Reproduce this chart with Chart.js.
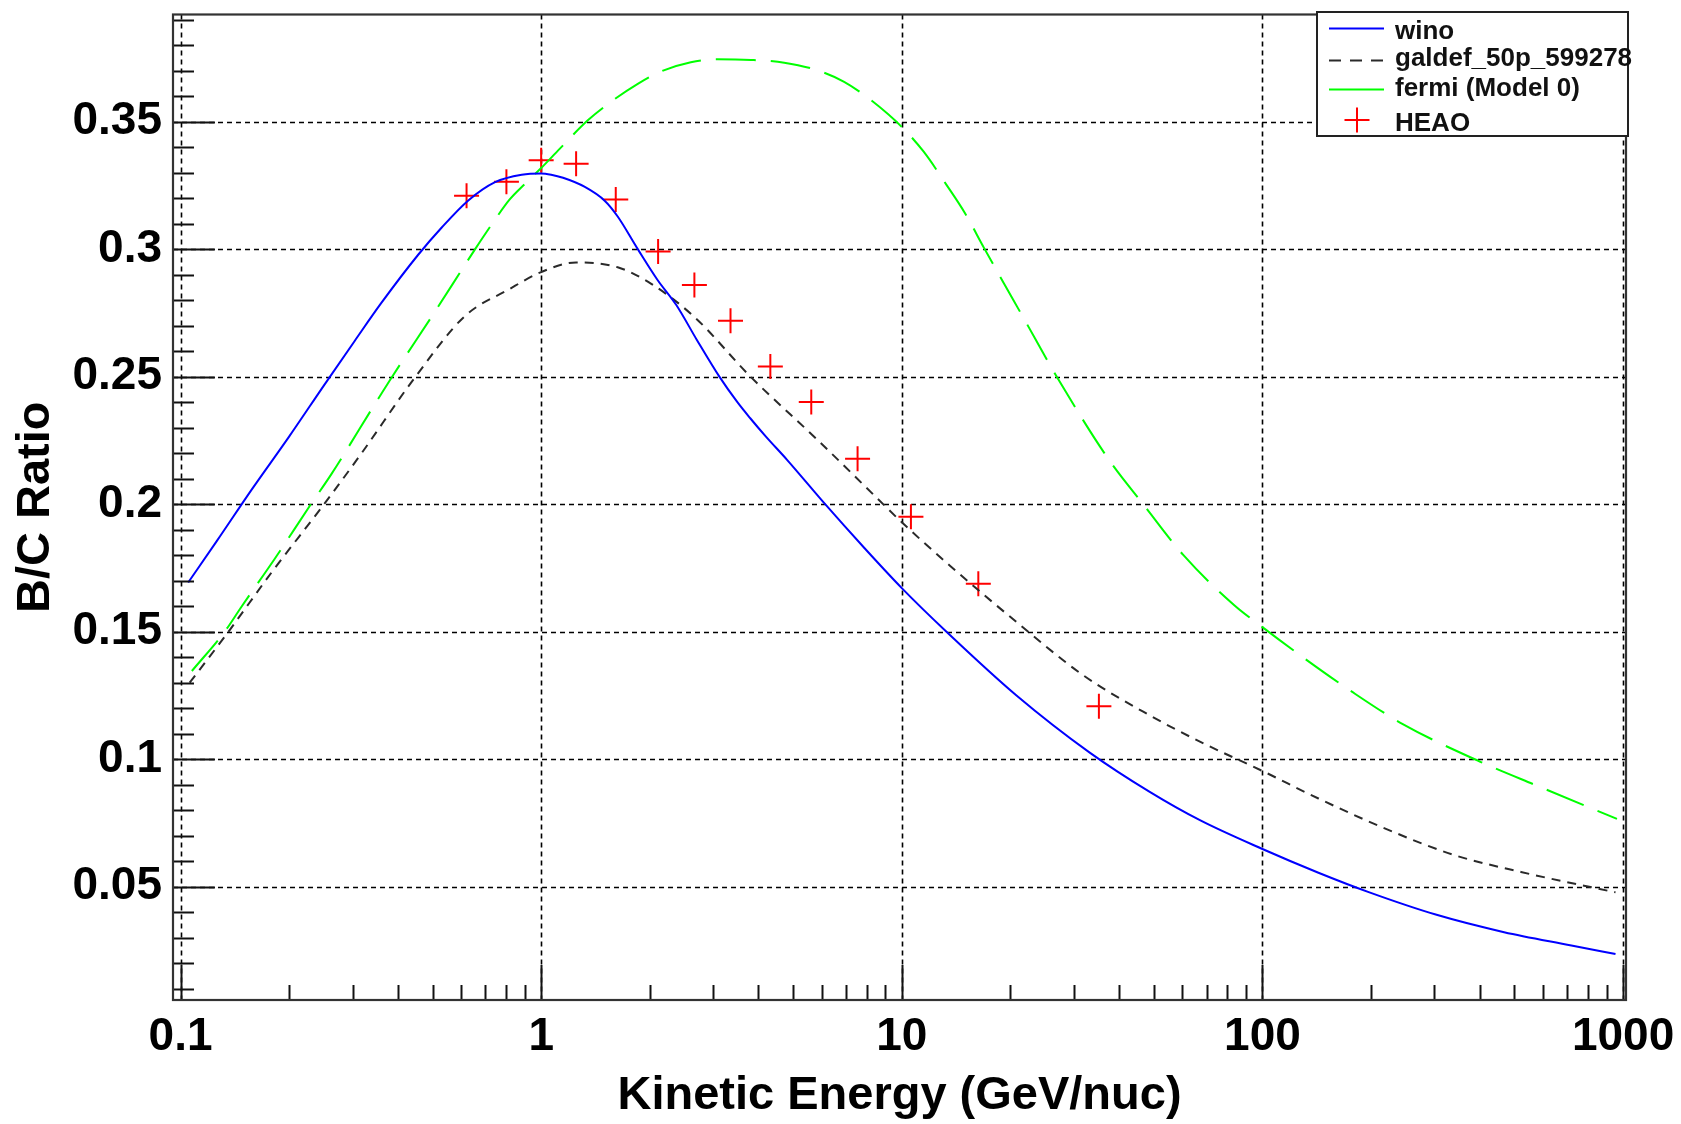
<!DOCTYPE html>
<html>
<head>
<meta charset="utf-8">
<title>B/C Ratio vs Kinetic Energy</title>
<script src="https://cdn.jsdelivr.net/npm/chart.js@4.4.1/dist/chart.umd.min.js"></script>
<style>
  html, body { margin: 0; padding: 0; background: #ffffff; }
  canvas { display: block; }
</style>
</head>
<body>
<canvas id="bc" width="1681" height="1124"></canvas>
<script>
// Boron-to-carbon ratio against kinetic energy per nucleon:
// three propagation models and the HEAO measurements.

const seriesNames = ['wino', 'galdef_50p_599278', 'fermi (Model 0)', 'HEAO'];

// wino model
const winoE  = [0.105, 0.126, 0.158, 0.2, 0.251, 0.304, 0.36, 0.456, 0.53, 0.629, 0.745, 0.883, 1.0, 1.066,
                1.15, 1.318, 1.5, 1.63, 1.853, 2.1, 2.37, 2.7, 3.12, 3.5, 3.8, 4.2, 4.8, 6.13, 7.83, 10,
                13.3, 20.8, 33.2, 48.7, 67.3, 100, 143, 198, 304, 468, 719, 953];
const winoBC = [0.1693, 0.1855, 0.206, 0.2265, 0.247, 0.2640, 0.2788, 0.2978, 0.3085, 0.3192, 0.3263, 0.3292, 0.3297, 0.3292,
                0.3280, 0.3245, 0.3190, 0.3128, 0.300, 0.2880, 0.2781, 0.2645, 0.250, 0.2400, 0.2337, 0.2265, 0.2175, 0.200, 0.1832, 0.1671,
                0.150, 0.125, 0.1026, 0.0872, 0.076, 0.0648, 0.0555, 0.0478, 0.0390, 0.0322, 0.0270, 0.0236];

// galdef_50p_599278 model
const galdefE  = [0.106, 0.1353, 0.1787, 0.251, 0.3177, 0.4467, 0.615, 0.811, 1.0, 1.25, 1.63, 2.02, 2.66, 3.8,
                  5.81, 8.52, 10, 13.6, 20.8, 31.8, 48.7, 67.3, 100, 143, 220, 339, 521, 953];
const galdefBC = [0.1300, 0.1497, 0.1732, 0.2003, 0.220, 0.2497, 0.2738, 0.2841, 0.2910, 0.2948, 0.2929, 0.2864, 0.2734, 0.2501,
                  0.2255, 0.2025, 0.1929, 0.1759, 0.1538, 0.1330, 0.1172, 0.1068, 0.0954, 0.0846, 0.0727, 0.0625, 0.0558, 0.0478];

// fermi (Model 0)
const fermiE  = [0.1075, 0.1325, 0.1474, 0.1825, 0.2307, 0.262, 0.346, 0.385, 0.5075, 0.656, 0.74, 0.818, 0.9, 1.0,
                 1.125, 1.347, 1.563, 1.853, 2.15, 2.6, 3.08, 3.82, 4.72, 5.84, 6.92, 8.2, 10, 11.5, 13.26, 15,
                 16.9, 22, 26.9, 37.5, 46.7, 60.4, 83.4, 100, 128, 177, 245, 402, 580, 962];
const fermiBC = [0.1346, 0.150, 0.1597, 0.1786, 0.2003, 0.2118, 0.2393, 0.2497, 0.2755, 0.300, 0.311, 0.3195, 0.3255, 0.3318,
                 0.3393, 0.3505, 0.3578, 0.3648, 0.3697, 0.3733, 0.3745, 0.3742, 0.3731, 0.3701, 0.3656, 0.3585, 0.3479, 0.3382, 0.3255, 0.3139,
                 0.3005, 0.2718, 0.2500, 0.2175, 0.200, 0.180, 0.1605, 0.1518, 0.1405, 0.1265, 0.1138, 0.0990, 0.0895, 0.0766];

// HEAO measurements
const heaoE  = [0.621, 0.801, 1.0, 1.25, 1.61, 2.11, 2.66, 3.35, 4.32, 5.61, 7.54, 10.6, 16.3, 35.2];
const heaoBC = [0.3209, 0.3264, 0.3349, 0.3335, 0.3195, 0.2991, 0.2859, 0.2719, 0.2540, 0.2401, 0.2178, 0.1951, 0.1688, 0.1208];

// axis ticks
const xMajorTicks = [0.1, 1, 10, 100, 1000];
const xTickLabels = ['0.1', '1', '10', '100', '1000'];
const yMajorTicks = [0.05, 0.1, 0.15, 0.2, 0.25, 0.3, 0.35];
const yTickLabels = ['0.05', '0.1', '0.15', '0.2', '0.25', '0.3', '0.35'];

const clean = v => parseFloat(v.toPrecision(6));
const xMinorTicks = [];
[0.1, 1, 10, 100].forEach(d => { for (let m = 2; m <= 9; m++) xMinorTicks.push(clean(d * m)); });
const yMinorTicks = [];
for (let k = 1; k <= 39; k++) if (k % 5 !== 0) yMinorTicks.push(clean(k * 0.01));

const xAllTicks = xMajorTicks.concat(xMinorTicks).sort((a, b) => a - b);
const yAllTicks = yMajorTicks.concat(yMinorTicks).sort((a, b) => a - b);

const toPoints = (xs, ys) => xs.map((v, i) => ({ x: v, y: ys[i] }));
const FONT = "'Liberation Sans', Arial, Helvetica, sans-serif";

// ROOT-style frame: dotted grid, inward tick marks, box and legend
const rootFrame = {
  id: 'rootFrame',
  beforeDatasetsDraw(chart) {
    const { ctx, chartArea: a, scales: { x, y } } = chart;
    ctx.save();
    ctx.strokeStyle = '#000';
    ctx.lineWidth = 1.6;
    ctx.setLineDash([5, 4]);
    xMajorTicks.forEach(v => {
      const px = Math.round(x.getPixelForValue(v)) + 0.5;
      ctx.beginPath(); ctx.moveTo(px, a.top); ctx.lineTo(px, a.bottom); ctx.stroke();
    });
    yMajorTicks.forEach(v => {
      const py = Math.round(y.getPixelForValue(v)) + 0.5;
      ctx.beginPath(); ctx.moveTo(a.left, py); ctx.lineTo(a.right, py); ctx.stroke();
    });
    ctx.restore();
  },
  afterDatasetsDraw(chart) {
    const { ctx, chartArea: a, scales: { x, y } } = chart;
    ctx.save();
    ctx.setLineDash([]);
    ctx.strokeStyle = '#111';
    ctx.lineWidth = 2;
    // y ticks, pointing into the frame
    yAllTicks.forEach(v => {
      const py = Math.round(y.getPixelForValue(v)) + 0.5;
      const len = yMajorTicks.includes(v) ? 42 : 21;
      ctx.beginPath(); ctx.moveTo(a.left, py); ctx.lineTo(a.left + len, py); ctx.stroke();
    });
    // x ticks
    xAllTicks.forEach(v => {
      const px = Math.round(x.getPixelForValue(v)) + 0.5;
      const len = xMajorTicks.includes(v) ? 35 : 15;
      ctx.beginPath(); ctx.moveTo(px, a.bottom); ctx.lineTo(px, a.bottom - len); ctx.stroke();
    });
    // frame
    ctx.strokeStyle = '#333';
    ctx.lineWidth = 2.2;
    ctx.strokeRect(a.left, a.top, a.right - a.left, a.bottom - a.top);

    // legend
    const L = { left: 1317, top: 12, right: 1628, bottom: 136 };
    ctx.fillStyle = '#fff';
    ctx.fillRect(L.left, L.top, L.right - L.left, L.bottom - L.top);
    ctx.strokeStyle = '#222';
    ctx.lineWidth = 2;
    ctx.strokeRect(L.left, L.top, L.right - L.left, L.bottom - L.top);

    const ds = chart.data.datasets;
    const rows = [28, 60, 89, 120];
    const baselines = [39, 66, 96, 131];
    const x0 = 1329, x1 = 1384;
    ctx.lineCap = 'butt';
    for (let i = 0; i < 3; i++) {
      ctx.strokeStyle = ds[i].borderColor;
      ctx.lineWidth = 2;
      ctx.setLineDash(i === 1 ? [12, 9] : []);
      ctx.beginPath(); ctx.moveTo(x0, rows[i] + 0.5); ctx.lineTo(x1, rows[i] + 0.5); ctx.stroke();
    }
    ctx.setLineDash([]);
    ctx.strokeStyle = ds[3].borderColor;
    ctx.lineWidth = 2;
    const cx = 1357, cy = rows[3], r = 12.5;
    ctx.beginPath();
    ctx.moveTo(cx - r, cy); ctx.lineTo(cx + r, cy);
    ctx.moveTo(cx, cy - r); ctx.lineTo(cx, cy + r);
    ctx.stroke();

    ctx.fillStyle = '#111';
    ctx.font = 'bold 26px ' + FONT;
    ctx.textAlign = 'left';
    ctx.textBaseline = 'alphabetic';
    seriesNames.forEach((name, i) => ctx.fillText(name, 1395, baselines[i]));
    ctx.restore();
  }
};

Chart.defaults.font.family = FONT;

new Chart(document.getElementById('bc'), {
  type: 'line',
  data: {
    datasets: [
      {
        label: seriesNames[0],
        data: toPoints(winoE, winoBC),
        borderColor: '#0000ff',
        borderWidth: 2,
        pointRadius: 0,
        fill: false,
        cubicInterpolationMode: 'monotone'
      },
      {
        label: seriesNames[1],
        data: toPoints(galdefE, galdefBC),
        borderColor: '#2a2a2a',
        borderWidth: 2,
        borderDash: [9, 7],
        pointRadius: 0,
        fill: false,
        cubicInterpolationMode: 'monotone'
      },
      {
        label: seriesNames[2],
        data: toPoints(fermiE, fermiBC),
        borderColor: '#00ff00',
        borderWidth: 2,
        borderDash: [40, 15],
        pointRadius: 0,
        fill: false,
        cubicInterpolationMode: 'monotone'
      },
      {
        label: seriesNames[3],
        data: toPoints(heaoE, heaoBC),
        showLine: false,
        borderColor: '#ff0000',
        backgroundColor: '#ff0000',
        pointStyle: 'cross',
        pointRadius: 12.5,
        pointBorderWidth: 2,
        pointHoverRadius: 12.5
      }
    ]
  },
  options: {
    responsive: false,
    devicePixelRatio: 1,
    animation: false,
    events: [],
    layout: { padding: { left: 0, top: 12, right: 55, bottom: 0 } },
    plugins: { legend: { display: false }, tooltip: { enabled: false } },
    scales: {
      x: {
        type: 'logarithmic',
        position: 'bottom',
        min: 0.0953,
        max: 1019,
        grid: { display: false },
        border: { display: false },
        afterBuildTicks: s => { s.ticks = xAllTicks.map(v => ({ value: v })); },
        afterFit: s => { s.height = 124; s.paddingLeft = 0; s.paddingRight = 0; },
        ticks: {
          autoSkip: false,
          maxRotation: 0,
          minRotation: 0,
          padding: 2,
          color: '#000',
          font: { size: 46, weight: 'bold' },
          callback: v => { const i = xMajorTicks.indexOf(clean(v)); return i >= 0 ? xTickLabels[i] : ''; }
        },
        title: {
          display: true,
          text: 'Kinetic Energy (GeV/nuc)',
          color: '#000',
          font: { size: 47, weight: 'bold' },
          padding: { top: 0, bottom: 0 }
        }
      },
      y: {
        type: 'linear',
        position: 'left',
        min: 0.0056,
        max: 0.392,
        grid: { display: false, drawTicks: false, tickLength: 0 },
        border: { display: false },
        afterBuildTicks: s => { s.ticks = yAllTicks.map(v => ({ value: v })); },
        afterFit: s => { s.width = 173; s.paddingTop = 0; s.paddingBottom = 0; },
        ticks: {
          autoSkip: false,
          padding: 11,
          color: '#000',
          font: { size: 46, weight: 'bold' },
          callback: v => { const i = yMajorTicks.indexOf(clean(v)); return i >= 0 ? yTickLabels[i] : ''; }
        },
        title: {
          display: true,
          text: 'B/C Ratio',
          color: '#000',
          font: { size: 47, weight: 'bold' },
          padding: { top: 8, bottom: 0 }
        }
      }
    }
  },
  plugins: [rootFrame]
});
</script>
</body>
</html>
